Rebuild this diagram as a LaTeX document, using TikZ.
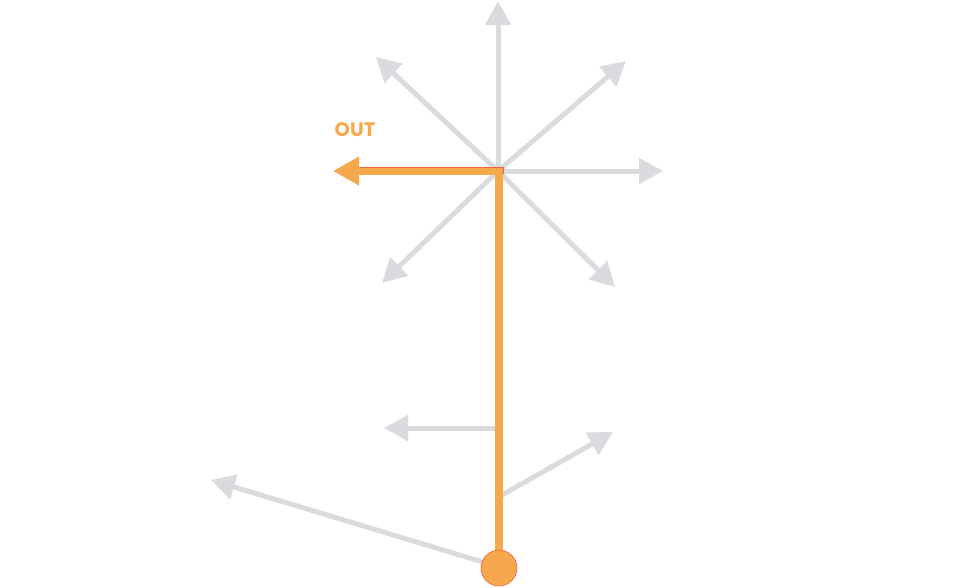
\documentclass[tikz,border=0pt]{standalone}
\usepackage{fontspec}
\newfontfamily\labelfont{Poppins}
\usetikzlibrary{arrows.meta}
\definecolor{ray}{RGB}{218,219,223}
\definecolor{path}{RGB}{246,168,76}
\definecolor{pathedge}{RGB}{240,100,60}
\begin{document}
\begin{tikzpicture}[x=1pt,y=-1pt]
\useasboundingbox(0,0)rectangle(972,587);
\tikzset{ray/.style={draw=ray,line width=5pt,-{Triangle[length=24pt,width=25pt]}}}
\coordinate(H) at(498,171);
\coordinate(B) at(499,568);
% rays from the hub
\coordinate(N) at(498,1);
\coordinate(NW) at(376,57);
\coordinate(NE) at(626,61);
\coordinate(E) at(663,171);
\coordinate(SW) at(382,283);
\coordinate(SE) at(615,287);
\foreach \t in {N,NW,NE,E,SW,SE}
  \draw[ray](H)--(\t);
% rays along the stem
\coordinate(L1) at(496,428);
\coordinate(T1) at(384,428);
\coordinate(L2) at(502,495);
\coordinate(T2) at(613,432);
\coordinate(L3) at(486,563);
\coordinate(T3) at(211,480);
\draw[ray](L1)--(T1);
\draw[ray](L2)--(T2);
\draw[ray](L3)--(T3);
% the orange path
\coordinate(O) at(333,171);
\draw[path,line width=8.5pt,-{Triangle[length=26pt,width=27pt]}](B)--(499,171)--(O);
\draw[pathedge,line width=0.8pt](360,167)--(503.2,167)--(503.2,174);
\node[circle,fill=path,draw=pathedge,line width=0.6pt,minimum size=36pt,inner sep=0pt](S) at(B){};
\node[text=path,font=\labelfont\bfseries\fontsize{19.5}{20}\selectfont](out) at(355,130){OUT};
\end{tikzpicture}
\end{document}
